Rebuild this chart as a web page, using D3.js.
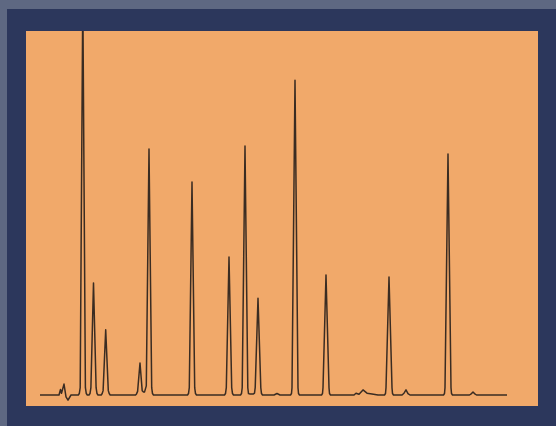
<!DOCTYPE html>
<html><head><meta charset="utf-8">
<script src="https://cdn.jsdelivr.net/npm/d3@7"></script>
<style>html,body{margin:0;padding:0;background:#5e6882;}svg{display:block;}</style>
</head><body>
<svg id="c" width="556" height="426"></svg>
<script>
// Retention time (min) and detector signal (%).
// One line per peak; each line of traceTime pairs with the same line of traceSignal.
const traceTime = [
  0.0, 1.7, 1.9, 2.05, 2.15, 2.4, 2.6, 2.8, 3.1, 3.7,
  3.83, 3.93, 4.02, 4.28, 4.54, 4.63, 4.73,
  4.9, 5.0, 5.09, 5.35, 5.61, 5.7, 5.8,
  6.12, 6.22, 6.31, 6.57, 6.83, 6.92, 7.02,
  9.55, 9.65, 9.76, 10.0, 10.22, 10.35, 10.45,
  10.63, 10.9, 11.17, 11.25, 11.35,
  14.75, 14.85, 14.93, 15.2, 15.47, 15.55, 15.65,
  18.45, 18.55, 18.63, 18.9, 19.17, 19.25, 19.35,
  20.05, 20.15, 20.22, 20.5, 20.78, 20.85, 20.95,
  21.35, 21.45, 21.52, 21.8, 22.08, 22.15, 22.25,
  23.4, 23.7, 24.0,
  25.05, 25.15, 25.2, 25.5, 25.8, 25.85, 25.95,
  28.15, 28.25, 28.3, 28.6, 28.9, 28.95, 29.05,
  31.4, 31.6, 31.9, 32.3, 32.7, 33.2, 33.8,
  34.45, 34.55, 34.6, 34.9, 35.2, 35.25, 35.35,
  36.2, 36.4, 36.6, 36.8, 37.0,
  40.35, 40.45, 40.5, 40.8, 41.1, 41.15, 41.25,
  42.95, 43.15, 43.3, 43.45, 43.65,
  46.7
];
const traceSignal = [
  0, 0, 0, 1.5, 0.5, 3.0, -0.5, -1.4, 0, 0,
  0, 0.4, 2, 110, 2, 0.4, 0,
  0, 0.4, 2, 30.8, 2, 0.4, 0,
  0, 0.4, 1.2, 17.9, 1.2, 0.4, 0,
  0, 0.3, 1.0, 8.8, 1.2, 0.8, 0.8,
  2.5, 67.6, 2, 0.4, 0,
  0, 0.4, 2, 58.5, 2, 0.4, 0,
  0, 0.4, 2, 37.9, 2, 0.4, 0,
  0, 0.4, 2, 68.4, 2, 0.4, 0.3,
  0.3, 0.5, 2, 26.6, 2, 0.4, 0,
  0, 0.4, 0,
  0, 0.4, 2, 86.5, 2, 0.4, 0,
  0, 0.4, 2, 33.0, 2, 0.4, 0,
  0, 0.5, 0.2, 1.4, 0.5, 0.3, 0,
  0, 0.4, 2, 32.4, 2, 0.4, 0,
  0, 0.5, 1.4, 0.4, 0,
  0, 0.4, 2, 66.2, 2, 0.4, 0,
  0, 0.4, 0.8, 0.4, 0,
  0
];
</script>
<script>
const W = 556, H = 426;
const svg = d3.select("#c");
svg.append("rect").attr("x",0).attr("y",0).attr("width",W).attr("height",H).attr("fill","#5e6882");
svg.append("rect").attr("x",7).attr("y",9).attr("width",W-7).attr("height",H-9).attr("fill","#2c375c");
const panel = {x:26, y:31, w:512, h:375};
svg.append("rect").attr("x",panel.x).attr("y",panel.y).attr("width",panel.w).attr("height",panel.h).attr("fill","#f1a96a");
svg.append("clipPath").attr("id","clip").append("rect")
  .attr("x",panel.x).attr("y",panel.y).attr("width",panel.w).attr("height",panel.h);

const x = d3.scaleLinear().domain([0,46.7]).range([40,507]);
const y = d3.scaleLinear().domain([0,100]).range([395,31]);

const n = Math.min(traceTime.length, traceSignal.length);
const pts = d3.range(n).map(i => [traceTime[i], traceSignal[i]]);
const line = d3.line().x(d=>x(d[0])).y(d=>y(d[1])).curve(d3.curveLinear);
svg.append("path").attr("d", line(pts)).attr("fill","none")
  .attr("stroke","#3a2c22").attr("stroke-width",1.5).attr("stroke-linejoin","round")
  .attr("clip-path","url(#clip)");
</script>
</body></html>
